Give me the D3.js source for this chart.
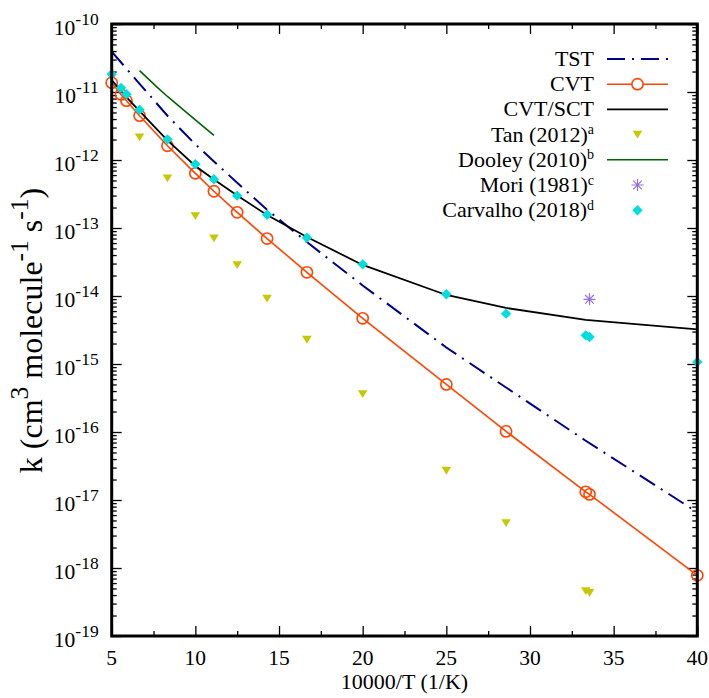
<!DOCTYPE html>
<html>
<head>
<meta charset="utf-8">
<script src="https://cdn.jsdelivr.net/npm/d3@7"></script>
<style>
  html, body { margin: 0; padding: 0; background: #fff; }
  svg { display: block; }
  text { font-family: "Liberation Serif", "DejaVu Serif", serif; fill: #000; }
</style>
</head>
<body>
<div id="chart"></div>
<script>
// Rate constants k (cm^3 molecule^-1 s^-1) versus 10000/T (1/K)

// abscissa values shared by the computed curves
const invT = [5, 5.556, 5.882, 6.667, 8.333, 10, 11.111, 12.5, 14.286, 16.667, 20, 25, 28.571, 33.333, 33.557, 40];

// TST (dash-dot line)
const tstX = [5, 6.667, 8.333, 10, 11.111, 12.5, 14.286, 16.667, 20, 25, 28.571, 33.333, 40];
const tstK = [3.92e-11, 1.32e-11, 4.47e-12, 1.70e-12, 9.53e-13, 4.62e-13, 1.86e-13, 6.21e-14, 1.43e-14, 1.75e-15, 4.51e-16, 7.43e-17, 6.6e-18];

// CVT (line with open circles) on invT
const cvtK = [1.37e-11, 9.2e-12, 7.45e-12, 4.48e-12, 1.62e-12, 6.37e-13, 3.47e-13, 1.70e-13, 7.0e-14, 2.23e-14, 4.7e-15, 5.0e-16, 1.02e-16, 1.32e-17, 1.21e-17, 7.8e-19];

// CVT/SCT (solid black line)
const sctX = [5, 5.556, 5.882, 6.667, 8.333, 10, 11.111, 12.5, 14.286, 16.667, 20, 25, 28.571, 33.333, 40];
const sctK = [1.50e-11, 1.035e-11, 8.43e-12, 5.25e-12, 1.94e-12, 8.17e-13, 5.16e-13, 3.01e-13, 1.55e-13, 7.38e-14, 2.86e-14, 1.035e-14, 6.67e-15, 4.44e-15, 3.24e-15];

// Tan (2012)
const tanX = [6.667, 8.333, 10, 11.111, 12.5, 14.286, 16.667, 20, 25, 28.571, 33.333, 33.557];
const tanK = [2.16e-12, 5.4e-13, 1.5e-13, 7.05e-14, 2.86e-14, 9.2e-15, 2.28e-15, 3.62e-16, 2.7e-17, 4.6e-18, 4.6e-19, 4.3e-19];

// Dooley (2010)
const dooleyX = [6.667, 7.692, 8.333, 9.091, 10, 11.111];
const dooleyK = [2.06e-11, 1.19e-11, 8.59e-12, 6.01e-12, 3.90e-12, 2.31e-12];

// Mori (1981)
const moriX = [33.557];
const moriK = [8.93e-15];

// Carvalho (2018) on invT
const carvalhoK = [1.82e-11, 1.15e-11, 9.25e-12, 5.5e-12, 2.01e-12, 8.65e-13, 5.2e-13, 2.99e-13, 1.57e-13, 7.2e-14, 2.92e-14, 1.06e-14, 5.5e-15, 2.64e-15, 2.5e-15, 1.07e-15];

// axis ticks
const xMajor = [5, 10, 15, 20, 25, 30, 35, 40];
const xMinor = [7.5, 12.5, 17.5, 22.5, 27.5, 32.5, 37.5];
const yExponents = [-19, -18, -17, -16, -15, -14, -13, -12, -11, -10];

// legend entries
const legendNames = ["TST", "CVT", "CVT/SCT", "Tan (2012)", "Dooley (2010)", "Mori (1981)", "Carvalho (2018)"];
const legendNotes = ["", "", "", "a", "b", "c", "d"];

const W = 709, H = 698;
const L = 111.7, R = 697.3, T = 24, B = 636;

const C = {
  tst: "#00008b",
  cvt: "#ff4500",
  sct: "#000000",
  tan: "#c8c800",
  dooley: "#006400",
  mori: "#9370db",
  carvalho: "#00dede"
};

const svg = d3.select("#chart").append("svg")
  .attr("width", W).attr("height", H);

const x = d3.scaleLinear().domain([5, 40]).range([L, R]);
const y = d3.scaleLog().domain([1e-19, 1e-10]).range([B, T]);

const yMajor = yExponents.map(e => Math.pow(10, e));
const yMinor = [];
yExponents.slice(0, -1).forEach(e => {
  for (let m = 2; m <= 9; m++) yMinor.push(m * Math.pow(10, e));
});

// ---- ticks on all four sides, pointing inward ----
function tickGroup(axis, tx, ty, cls) {
  const g = svg.append("g").attr("class", cls).attr("transform", `translate(${tx},${ty})`).call(axis);
  g.select(".domain").remove();
  g.selectAll("text").remove();
  g.selectAll("line").attr("stroke", "#000").attr("stroke-width", 1.3);
  return g;
}
tickGroup(d3.axisBottom(x).tickValues(xMajor).tickSize(-10), 0, B, "xb");
tickGroup(d3.axisBottom(x).tickValues(xMinor).tickSize(-5), 0, B, "xbm");
tickGroup(d3.axisTop(x).tickValues(xMajor).tickSize(-10), 0, T, "xt");
tickGroup(d3.axisTop(x).tickValues(xMinor).tickSize(-5), 0, T, "xtm");
tickGroup(d3.axisLeft(y).tickValues(yMajor).tickSize(-10), L, 0, "yl");
tickGroup(d3.axisLeft(y).tickValues(yMinor).tickSize(-5), L, 0, "ylm");
tickGroup(d3.axisRight(y).tickValues(yMajor).tickSize(-10), R, 0, "yr");
tickGroup(d3.axisRight(y).tickValues(yMinor).tickSize(-5), R, 0, "yrm");

// x tick labels
svg.append("g").selectAll("text").data(xMajor).join("text")
  .attr("x", d => x(d)).attr("y", B + 28.5)
  .attr("text-anchor", "middle").attr("font-size", 21.5)
  .text(d => d);

// y tick labels as 10^n
const yl = svg.append("g").selectAll("text").data(yExponents).join("text")
  .attr("x", L - 13).attr("y", d => y(Math.pow(10, d)) + 10.5)
  .attr("text-anchor", "end").attr("font-size", 21.5);
yl.append("tspan").text("10");
yl.append("tspan").attr("font-size", 17.5).attr("dy", -10).text(d => d);

// axis titles
svg.append("text")
  .attr("x", (L + R) / 2).attr("y", 689)
  .attr("text-anchor", "middle").attr("font-size", 22)
  .text("10000/T (1/K)");

const yt = svg.append("text")
  .attr("transform", `translate(41.5,${330.5}) rotate(-90)`)
  .attr("text-anchor", "middle").attr("font-size", 32);
yt.append("tspan").text("k (cm");
yt.append("tspan").attr("font-size", 25.5).attr("dy", -14).text("3");
yt.append("tspan").attr("dy", 14).text(" molecule");
yt.append("tspan").attr("font-size", 25.5).attr("dy", -14).text("-1");
yt.append("tspan").attr("dy", 14).text(" s");
yt.append("tspan").attr("font-size", 25.5).attr("dy", -14).text("-1");
yt.append("tspan").attr("dy", 14).text(")");

// ---- marker shapes ----
const triDown = "M-4.8,-3.8L4.8,-3.8L0,4Z";
const diamond = "M0,-5.2L5.2,0L0,5.2L-5.2,0Z";
const asterisk = "M-6,0L6,0M0,-6L0,6M-4.3,-4.3L4.3,4.3M-4.3,4.3L4.3,-4.3";

const line = d3.line().x(d => x(d[0])).y(d => y(d[1]));

const plot = svg.append("g");

// TST
plot.append("path").datum(d3.zip(tstX, tstK))
  .attr("d", line).attr("fill", "none")
  .attr("stroke", C.tst).attr("stroke-width", 2)
  .attr("stroke-dasharray", "18,7,2,7");

// CVT
plot.append("path").datum(d3.zip(invT, cvtK))
  .attr("d", line).attr("fill", "none")
  .attr("stroke", C.cvt).attr("stroke-width", 1.6);
plot.append("g").selectAll("circle").data(d3.zip(invT, cvtK)).join("circle")
  .attr("cx", d => x(d[0])).attr("cy", d => y(d[1])).attr("r", 5.6)
  .attr("fill", "none").attr("stroke", C.cvt).attr("stroke-width", 1.6);

// CVT/SCT
plot.append("path").datum(d3.zip(sctX, sctK))
  .attr("d", line).attr("fill", "none")
  .attr("stroke", C.sct).attr("stroke-width", 1.8);

// Tan
plot.append("g").selectAll("path").data(d3.zip(tanX, tanK)).join("path")
  .attr("transform", d => `translate(${x(d[0])},${y(d[1])})`)
  .attr("d", triDown).attr("fill", C.tan);

// Dooley
plot.append("path").datum(d3.zip(dooleyX, dooleyK))
  .attr("d", line).attr("fill", "none")
  .attr("stroke", C.dooley).attr("stroke-width", 1.6);

// Mori
plot.append("g").selectAll("path").data(d3.zip(moriX, moriK)).join("path")
  .attr("transform", d => `translate(${x(d[0])},${y(d[1])})`)
  .attr("d", asterisk).attr("fill", "none")
  .attr("stroke", C.mori).attr("stroke-width", 1.2);

// Carvalho
plot.append("g").selectAll("path").data(d3.zip(invT, carvalhoK)).join("path")
  .attr("transform", d => `translate(${x(d[0])},${y(d[1])})`)
  .attr("d", diamond).attr("fill", C.carvalho);

// ---- frame ----
svg.append("rect")
  .attr("x", L).attr("y", T).attr("width", R - L).attr("height", B - T)
  .attr("fill", "none").attr("stroke", "#000").attr("stroke-width", 3);

// ---- legend ----
const lgX0 = 607, lgX1 = 668, lgMid = (lgX0 + lgX1) / 2, lgText = 594;
const rowY = i => 59 + i * 25.2;
const lg = svg.append("g");
legendNames.forEach((name, i) => {
  const ty = rowY(i);
  const t = lg.append("text").attr("x", lgText).attr("y", ty + 7)
    .attr("text-anchor", "end").attr("font-size", 22);
  t.append("tspan").text(name);
  if (legendNotes[i]) t.append("tspan").attr("font-size", 14).attr("dy", -7.5).text(legendNotes[i]);
});
// samples
lg.append("line").attr("x1", lgX0).attr("x2", lgX1).attr("y1", rowY(0)).attr("y2", rowY(0))
  .attr("stroke", C.tst).attr("stroke-width", 2).attr("stroke-dasharray", "18,7,2,7");
lg.append("line").attr("x1", lgX0).attr("x2", lgX1).attr("y1", rowY(1)).attr("y2", rowY(1))
  .attr("stroke", C.cvt).attr("stroke-width", 1.6);
lg.append("circle").attr("cx", lgMid).attr("cy", rowY(1)).attr("r", 5.6)
  .attr("fill", "#fff").attr("stroke", C.cvt).attr("stroke-width", 1.6);
lg.append("line").attr("x1", lgX0).attr("x2", lgX1).attr("y1", rowY(2)).attr("y2", rowY(2))
  .attr("stroke", C.sct).attr("stroke-width", 1.8);
lg.append("path").attr("transform", `translate(${lgMid},${rowY(3)})`).attr("d", triDown).attr("fill", C.tan);
lg.append("line").attr("x1", lgX0).attr("x2", lgX1).attr("y1", rowY(4)).attr("y2", rowY(4))
  .attr("stroke", C.dooley).attr("stroke-width", 1.6);
lg.append("path").attr("transform", `translate(${lgMid},${rowY(5)})`).attr("d", asterisk)
  .attr("fill", "none").attr("stroke", C.mori).attr("stroke-width", 1.2);
lg.append("path").attr("transform", `translate(${lgMid},${rowY(6)})`).attr("d", diamond).attr("fill", C.carvalho);
</script>
</body>
</html>
